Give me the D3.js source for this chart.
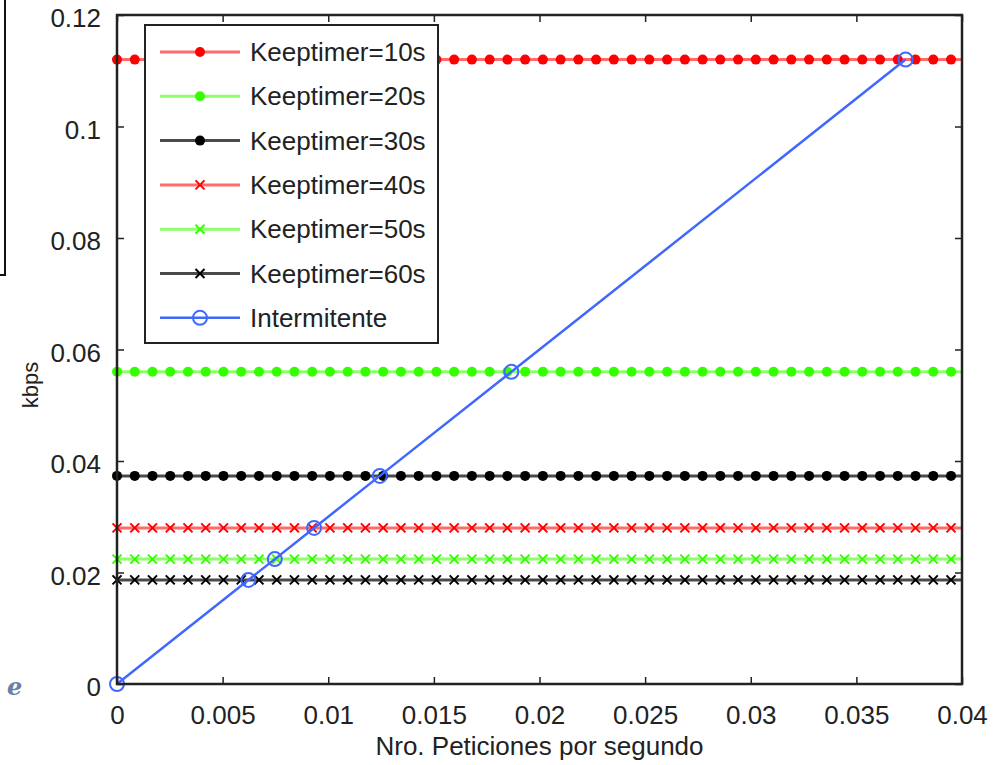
<!DOCTYPE html>
<html>
<head>
<meta charset="utf-8">
<script src="https://d3js.org/d3.v7.min.js"></script>
<style>
  body { margin: 0; background: #fff; }
  text { font-family: "Liberation Sans", Arial, sans-serif; fill: #222; }
</style>
</head>
<body>
<div id="chart"></div>
<script>
const width = 997;
const height = 765;

const margin = { top: 15, right: 35, bottom: 81, left: 117 };

// keeptimer series (constant kbps over the x sample grid)
const seriesNames = ["Keeptimer=10s", "Keeptimer=20s", "Keeptimer=30s",
                     "Keeptimer=40s", "Keeptimer=50s", "Keeptimer=60s"];
const seriesKbps  = [0.112, 0.056, 0.03733, 0.028, 0.0224, 0.01867];
const seriesColor = ["#ff0000", "#33ff00", "#000000", "#ff0000", "#33ff00", "#000000"];
const seriesLine  = ["#ff6a6a", "#8cff6a", "#4a4a4a", "#ff6a6a", "#8cff6a", "#4a4a4a"];
const seriesMark  = ["dot", "dot", "dot", "x", "x", "x"];

// x positions where the keeptimer markers sit
const xSamples = [0, 0.00084, 0.00168, 0.00252, 0.00336, 0.0042, 0.00504, 0.00588,
  0.00672, 0.00756, 0.0084, 0.00924, 0.01008, 0.01092, 0.01176, 0.0126, 0.01344,
  0.01428, 0.01512, 0.01596, 0.0168, 0.01764, 0.01848, 0.01932, 0.02016, 0.021,
  0.02184, 0.02268, 0.02352, 0.02436, 0.0252, 0.02604, 0.02688, 0.02772, 0.02856,
  0.0294, 0.03024, 0.03108, 0.03192, 0.03276, 0.0336, 0.03444, 0.03528, 0.03612,
  0.03696, 0.0378, 0.03864, 0.03948];

// intermitente series
const interX = [0, 0.00622, 0.00747, 0.00933, 0.01244, 0.01867, 0.03733];
const interY = [0, 0.01867, 0.0224, 0.028, 0.03733, 0.056, 0.112];

const xTicks = [0, 0.005, 0.01, 0.015, 0.02, 0.025, 0.03, 0.035, 0.04];
const yTicks = [0, 0.02, 0.04, 0.06, 0.08, 0.1, 0.12];

const svg = d3.select("#chart").append("svg")
   .attr("width", width)
   .attr("height", height);

const x = d3.scaleLinear()
   .domain([0, 0.04])
   .range([margin.left, width - margin.right]);

const y = d3.scaleLinear()
   .domain([0, 0.12])
   .range([684, margin.top]);

// leftover bits of the neighbouring figure
svg.append("path")
   .attr("d", "M5,0 V275 H0")
   .attr("fill", "none")
   .attr("stroke", "#111")
   .attr("stroke-width", 2);

svg.append("text")
   .attr("x", 7)
   .attr("y", 695)
   .style("font-family", "'DejaVu Serif', serif")
   .style("font-style", "italic")
   .style("font-weight", "bold")
   .style("font-size", "24px")
   .style("fill", "#6a7fa8")
   .text("e");

// keeptimer lines + markers
seriesKbps.forEach((v, i) => {
   const g = svg.append("g");
   g.append("line")
      .attr("x1", x(0)).attr("x2", x(0.04))
      .attr("y1", y(v)).attr("y2", y(v))
      .attr("stroke", seriesLine[i])
      .attr("stroke-width", 3);

   if (seriesMark[i] === "dot") {
      g.selectAll("circle")
         .data(xSamples)
         .enter()
         .append("circle")
         .attr("cx", d => x(d))
         .attr("cy", y(v))
         .attr("r", 5)
         .attr("fill", seriesColor[i]);
   } else {
      g.selectAll("path")
         .data(xSamples)
         .enter()
         .append("path")
         .attr("d", d => `M${x(d)-4.5},${y(v)-4.5}L${x(d)+4.5},${y(v)+4.5}M${x(d)-4.5},${y(v)+4.5}L${x(d)+4.5},${y(v)-4.5}`)
         .attr("stroke", seriesColor[i])
         .attr("stroke-width", 2);
   }
});

// intermitente
const interPts = interX.map((d, i) => [d, interY[i]]);

svg.append("path")
   .datum(interPts)
   .attr("fill", "none")
   .attr("stroke", "#4068ff")
   .attr("stroke-width", 2.5)
   .attr("d", d3.line().x(d => x(d[0])).y(d => y(d[1])));

svg.selectAll("circle.inter")
   .data(interPts)
   .enter()
   .append("circle")
   .attr("class", "inter")
   .attr("cx", d => x(d[0]))
   .attr("cy", d => y(d[1]))
   .attr("r", 7)
   .attr("fill", "none")
   .attr("stroke", "#4068ff")
   .attr("stroke-width", 2);

// axes box
svg.append("rect")
   .attr("x", x(0)).attr("y", y(0.12))
   .attr("width", x(0.04) - x(0))
   .attr("height", y(0) - y(0.12))
   .attr("fill", "none")
   .attr("stroke", "#222")
   .attr("stroke-width", 2.5);

const tickLen = 7;

svg.append("g")
   .attr("transform", `translate(0,${y(0)})`)
   .call(d3.axisBottom(x).tickValues(xTicks).tickSize(-tickLen).tickPadding(tickLen + 15).tickFormat(d3.format("")))
   .call(g => g.select(".domain").remove())
   .call(g => g.selectAll("line").attr("stroke", "#222").attr("stroke-width", 1.5))
   .call(g => g.selectAll("text").style("font-size", "26px").attr("fill", "#222")
      .attr("font-family", null));

svg.append("g")
   .attr("transform", `translate(0,${y(0.12)})`)
   .call(d3.axisTop(x).tickValues(xTicks).tickSize(-tickLen).tickFormat(""))
   .call(g => g.select(".domain").remove())
   .call(g => g.selectAll("line").attr("stroke", "#222").attr("stroke-width", 1.5));

svg.append("g")
   .attr("transform", `translate(${x(0)},0)`)
   .call(d3.axisLeft(y).tickValues(yTicks).tickSize(-tickLen).tickPadding(tickLen + 9).tickFormat(d3.format("")))
   .call(g => g.select(".domain").remove())
   .call(g => g.selectAll("line").attr("stroke", "#222").attr("stroke-width", 1.5))
   .call(g => g.selectAll("text").style("font-size", "26px").attr("fill", "#222")
      .attr("dy", "0.45em").attr("font-family", null));

svg.append("g")
   .attr("transform", `translate(${x(0.04)},0)`)
   .call(d3.axisRight(y).tickValues(yTicks).tickSize(-tickLen).tickFormat(""))
   .call(g => g.select(".domain").remove())
   .call(g => g.selectAll("line").attr("stroke", "#222").attr("stroke-width", 1.5));

// axis titles
svg.append("text")
   .attr("x", (x(0) + x(0.04)) / 2)
   .attr("y", 755)
   .style("text-anchor", "middle")
   .style("font-size", "26px")
   .text("Nro. Peticiones por segundo");

svg.append("text")
   .attr("transform", "translate(38,385) rotate(-90)")
   .style("text-anchor", "middle")
   .style("font-size", "22px")
   .text("kbps");

// legend
const legend = svg.append("g");

legend.append("rect")
   .attr("x", 145).attr("y", 25)
   .attr("width", 293).attr("height", 318)
   .attr("fill", "#fff")
   .attr("stroke", "#222")
   .attr("stroke-width", 2);

const legNames = seriesNames.concat(["Intermitente"]);
const rowY = i => 52 + i * 44.3;

legNames.forEach((name, i) => {
   const cy = rowY(i);
   const isInter = i === seriesNames.length;
   legend.append("line")
      .attr("x1", 160).attr("x2", 240)
      .attr("y1", cy).attr("y2", cy)
      .attr("stroke", isInter ? "#4068ff" : seriesLine[i])
      .attr("stroke-width", isInter ? 2.5 : 3);

   if (isInter) {
      legend.append("circle")
         .attr("cx", 200).attr("cy", cy).attr("r", 7)
         .attr("fill", "none").attr("stroke", "#4068ff").attr("stroke-width", 2);
   } else if (seriesMark[i] === "dot") {
      legend.append("circle")
         .attr("cx", 200).attr("cy", cy).attr("r", 5)
         .attr("fill", seriesColor[i]);
   } else {
      legend.append("path")
         .attr("d", `M195.5,${cy-4.5}L204.5,${cy+4.5}M195.5,${cy+4.5}L204.5,${cy-4.5}`)
         .attr("stroke", seriesColor[i]).attr("stroke-width", 2);
   }

   legend.append("text")
      .attr("x", 250)
      .attr("y", cy + 9)
      .style("font-size", "26px")
      .text(name);
});
</script>
</body>
</html>
